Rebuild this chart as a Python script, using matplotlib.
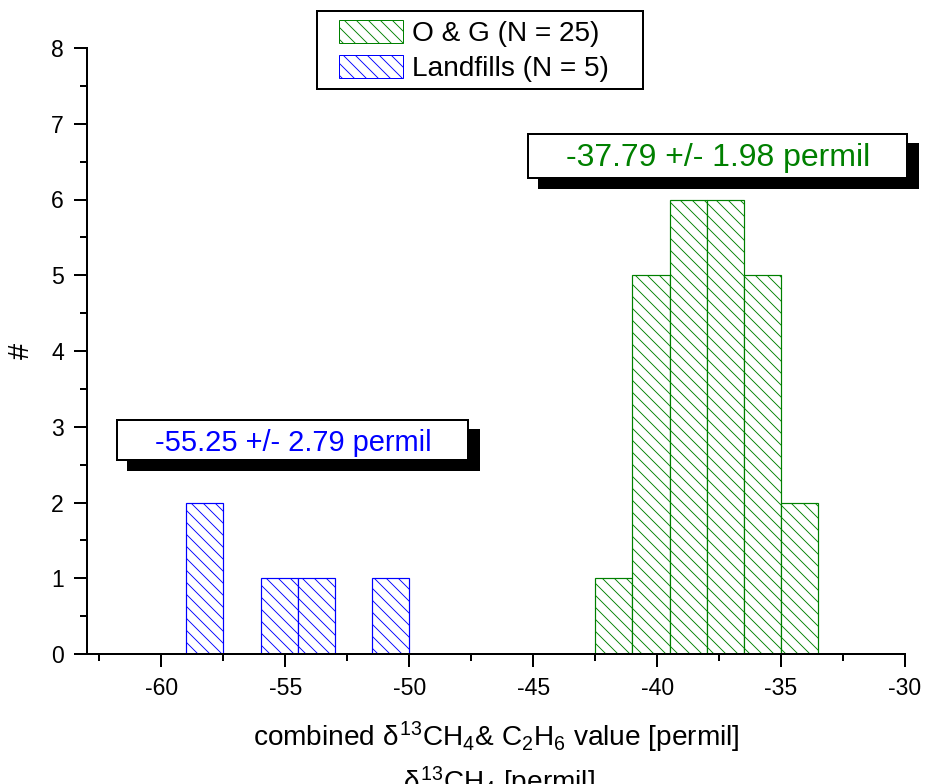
import matplotlib.pyplot as plt
from matplotlib.patches import Patch, Rectangle

plt.rcParams['font.family'] = ['Liberation Sans', 'DejaVu Sans']
plt.rcParams['mathtext.fontset'] = 'custom'
plt.rcParams['mathtext.rm'] = 'Liberation Sans'
plt.rcParams['mathtext.it'] = 'Liberation Sans'
plt.rcParams['axes.unicode_minus'] = False
plt.rcParams['hatch.linewidth'] = 0.9

# histogram data (bin left edges, counts), bin width 1.5 permil
bin_width = 1.5
og_edges = [-42.5, -41.0, -39.5, -38.0, -36.5, -35.0]
og_counts = [1, 5, 6, 6, 5, 2]
lf_edges = [-59.0, -56.0, -54.5, -51.5]
lf_counts = [2, 1, 1, 1]

og_label = 'O & G (N = 25)'
lf_label = 'Landfills (N = 5)'
og_stat = '-37.79 +/- 1.98 permil'
lf_stat = '-55.25 +/- 2.79 permil'

green = '#008000'
blue = '#0000ff'

W, H, DPI = 925, 784, 72
fig = plt.figure(figsize=(W / DPI, H / DPI), dpi=DPI)
ax = fig.add_axes([87 / W, 1 - 654 / H, (905 - 87) / W, (654 - 48) / H])

ax.bar(og_edges, og_counts, width=bin_width, align='edge', facecolor='white',
       edgecolor=green, hatch='\\\\', linewidth=1.2)
ax.bar(lf_edges, lf_counts, width=bin_width, align='edge', facecolor='white',
       edgecolor=blue, hatch='\\\\', linewidth=1.2)

ax.set_xlim(-63, -30)
ax.set_ylim(0, 8)
ax.set_xticks([-60, -55, -50, -45, -40, -35, -30])
ax.set_xticks([-62.5, -57.5, -52.5, -47.5, -42.5, -37.5, -32.5], minor=True)
ax.set_yticks(range(0, 9))
ax.set_yticks([i + 0.5 for i in range(8)], minor=True)

for s in ['top', 'right']:
    ax.spines[s].set_visible(False)
for s in ['left', 'bottom']:
    ax.spines[s].set_linewidth(2)
ax.tick_params(which='major', length=13, width=2, labelsize=23, pad=10)
ax.tick_params(which='minor', length=7, width=2)

ax.set_xlabel('combined $\\delta^{13}$CH$_4$& C$_2$H$_6$ value [permil]', fontsize=28, labelpad=20)
ax.set_ylabel('#', fontsize=29, labelpad=16)

# clipped leftover label at the very bottom
fig.text(499 / W, -7 / H, '$\\delta^{13}$CH$_4$ [permil]', fontsize=28,
         ha='center', va='baseline')


def shadow_box(x0, y0, x1, y1, tx, ty, text, color, size):
    # box corners and text centre in axes fraction
    dx, dy = 11 / 818, -10 / 606
    ax.add_patch(Rectangle((x0 + dx, y0 + dy), x1 - x0, y1 - y0, transform=ax.transAxes,
                           fc='black', ec='black', lw=2, clip_on=False, zorder=4))
    ax.add_patch(Rectangle((x0, y0), x1 - x0, y1 - y0, transform=ax.transAxes,
                           fc='white', ec='black', lw=2, clip_on=False, zorder=5))
    ax.text(tx, ty, text, transform=ax.transAxes, fontsize=size, color=color,
            ha='center', va='center', zorder=6)


shadow_box(0.539, 0.785, 1.002, 0.858, 0.771, 0.818, og_stat, green, 32)
shadow_box(0.0367, 0.320, 0.466, 0.386, 0.252, 0.349, lf_stat, blue, 29)

# legend frame drawn separately (tight vertical, wide horizontal padding)
frame = Rectangle((317 / W, 1 - 89 / H), (643 - 317) / W, (89 - 11) / H,
                  transform=fig.transFigure, fc='white', ec='black', lw=2)
frame.set_zorder(1)
fig.add_artist(frame)

handles = [Patch(facecolor='white', edgecolor=green, hatch='\\\\', label=og_label),
           Patch(facecolor='white', edgecolor=blue, hatch='\\\\', label=lf_label)]
leg = fig.legend(handles=handles, loc='upper left', bbox_to_anchor=(339 / W, 1 - 20 / H),
                 fontsize=28, frameon=False, borderpad=0, borderaxespad=0,
                 handlelength=2.3, handleheight=0.9, labelspacing=0.28,
                 handletextpad=0.3)
leg.set_zorder(2)

fig.savefig('out.png', dpi=DPI)
